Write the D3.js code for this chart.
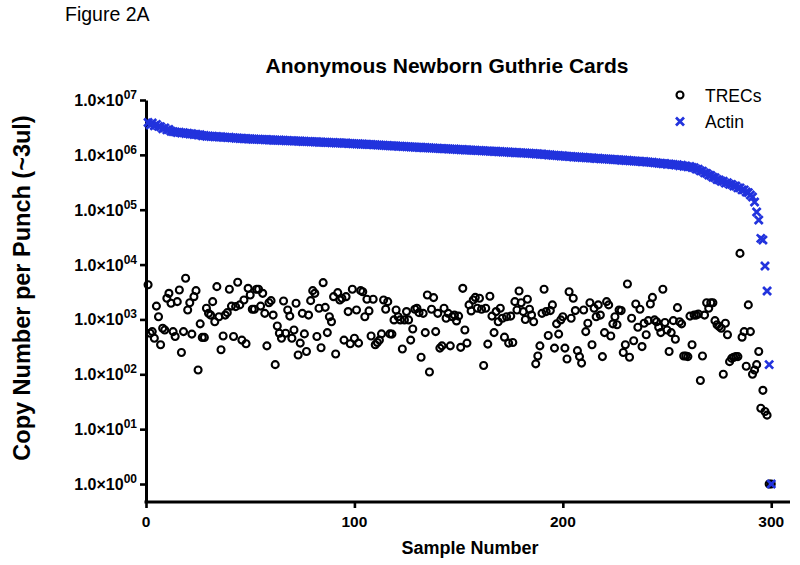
<!DOCTYPE html>
<html><head><meta charset="utf-8">
<script src="https://cdn.jsdelivr.net/npm/d3@7"></script>
<style>body{margin:0;background:#fff}svg{display:block}</style>
</head><body>
<svg id="c" width="800" height="565"></svg>
<script>
// ---------- DATA ----------
const seriesNames = ["TRECs", "Actin"];
const xTicks = [0, 100, 200, 300];
const yTickExps = [0, 1, 2, 3, 4, 5, 6, 7];

// Actin copy number per punch, samples 1..300 (in thousands)
const actinK = [
 3900,3500,3800,3400,3600,3300,3250,3000,3100,2850,2900,2700,2650,
 2620,2560,2590,2500,2540,2450,2480,2400,2420,2350,2380,2300,2320,2230,2260,2180,
 2210,2160,2190,2130,2160,2110,2140,2080,2105,2060,2090,2040,2060,2010,2030,1990,2010,1970,1990,1950,1970,1930,1950,1915,1935,1895,1915,1880,1900,1860,1880,1850,
 1870,1835,1860,1825,1845,1810,1830,1800,1815,1785,1800,1770,1790,1755,1770,1745,1760,1730,1745,1715,1730,1700,1715,1690,1700,1675,1690,1660,1675,1650,1660,1640,
 1650,1625,1640,1610,1620,1595,1605,1580,1595,1565,1580,1550,1560,1535,1550,1520,1535,1505,1520,1490,1500,1475,1485,1460,1470,1450,1460,1430,1445,1420,1430,1405,
 1415,1390,1400,1375,1385,1365,1375,1350,1360,1340,1350,1325,1335,1315,1320,1300,1310,1290,1300,1275,1285,1265,1275,1250,1260,1240,1250,1230,1240,1220,
 1230,1205,1215,1195,1205,1185,1195,1170,1180,1160,1170,1150,1160,1140,1150,1130,1140,1120,1125,1105,1115,1095,1105,1085,1095,1075,1085,1065,
 1075,1055,1060,1040,1050,1025,1035,1010,1020,995,1005,980,990,970,975,955,965,945,950,930,940,915,925,905,915,895,905,885,890,875,880,
 870,860,865,850,855,840,845,830,835,820,825,810,815,800,805,790,795,780,785,770,775,760,765,750,755,740,745,730,735,715,720,700,
 705,690,695,675,685,665,670,650,660,635,645,620,630,605,615,590,
 585,550,545,510,505,470,460,430,420,390,385,355,350,330,330,305,310,290,290,270,270,250,250,230,230,210,205,185,170,
 138,91,65,30,28,9.4,3.3,0.15,0.001
];

// TREC copy number per punch, samples 1..300
const trecs = [
 4300,560,600,455,1750,1120,345,690,640,2430,
 2990,1970,600,490,2110,3440,250,600,5620,1490,
 2020,540,2600,3350,120,830,470,470,1600,1290,
 1200,2110,910,3960,1120,280,500,1200,1330,3540,
 1750,490,1710,4750,1840,420,2260,360,3690,2790,
 1530,1530,3540,3540,1750,2990,1290,330,2020,2200,
 1200,150,760,560,455,2170,560,1490,1150,455,
 640,1970,225,370,1290,545,260,1200,2200,3350,
 2990,490,1600,305,4680,1660,575,1120,910,2600,
 235,3080,2260,2430,420,2600,1390,360,3540,455,
 1490,370,3350,3200,1120,2330,1430,500,2330,345,
 380,420,545,2260,1530,2110,545,540,980,1490,
 1120,980,290,980,1390,980,420,670,1530,1600,
 1330,205,1290,575,2790,110,1530,2500,600,1290,
 300,330,1600,1050,1290,330,1120,1200,940,1150,
 310,3690,640,370,1840,1430,2260,2520,
 1600,2430,1530,145,1600,355,2650,1150,575,1390,
 910,1600,1050,475,1120,370,1150,380,2110,1490,
 3300,2020,1390,1000,2330,1530,1200,910,155,215,
 330,1290,3540,1390,510,1450,1840,300,830,540,
 980,1120,300,190,3200,1050,2430,1450,270,210,
 160,1490,600,850,2020,345,1600,1120,1840,1200,
 210,575,2110,1840,500,830,1120,800,1490,1450,
 250,345,4430,205,1050,410,1910,720,1530,320,
 850,525,950,1910,2520,980,910,720,575,3540,
 880,640,260,575,950,435,1640,910,830,215,
 215,210,1150,345,1200,1200,1260,77,215,1200,
 2020,1600,2020,2020,950,800,740,690,100,850,
 525,170,195,205,210,210,16000,475,600,140,
 1840,600,100,120,150,260,24,51,21,18,
 1,1
];

// ---------- CHART ----------
const BLUE = "#2233dd";
const FONT = "'Liberation Sans', Arial, Helvetica, sans-serif";
const svg = d3.select("#c").style("font-family", FONT);

const x = d3.scaleLinear().domain([0, 309]).range([146, 790]);
const y = d3.scaleLog().domain([0.47, 1e7]).range([502, 100]);

const actin = actinK.map((v, i) => ({s: i + 1, v: v * 1000}));
const trec = trecs.map((v, i) => ({s: i + 1, v}));

// Figure label and title
svg.append("text").attr("x", 65).attr("y", 21).attr("font-size", 19.5).text("Figure 2A");
svg.append("text").attr("x", 447).attr("y", 73).attr("text-anchor", "middle")
  .attr("font-size", 21).attr("font-weight", "bold").text("Anonymous Newborn Guthrie Cards");

// Axes
const yAxis = d3.axisLeft(y).tickValues(yTickExps.map(e => Math.pow(10, e)))
  .tickSize(6).tickSizeOuter(0).tickFormat("");
const gy = svg.append("g").attr("transform", "translate(146,0)").call(yAxis);
const xAxis = d3.axisBottom(x).tickValues(xTicks).tickSize(6).tickSizeOuter(0).tickFormat("");
const gx = svg.append("g").attr("transform", "translate(0,502)").call(xAxis);
[gx, gy].forEach(g => {
  g.select(".domain").attr("stroke", "#000").attr("stroke-width", 3);
  g.selectAll(".tick line").attr("stroke", "#000").attr("stroke-width", 2.6);
});
gx.select(".domain").attr("d", `M${x.range()[0] - 1.5},0H${x.range()[1]}`);

// Y tick labels 1.0×10^0k
yTickExps.forEach(e => {
  const t = svg.append("text").attr("x", 137).attr("y", y(Math.pow(10, e)) + 6)
    .attr("text-anchor", "end").attr("font-weight", "bold").attr("font-size", 16);
  t.append("tspan").text("1.0×10");
  t.append("tspan").attr("dy", -7).attr("font-size", 12).text("0" + e);
});

// X tick labels
xTicks.forEach(v => {
  svg.append("text").attr("x", x(v)).attr("y", 527).attr("text-anchor", "middle")
    .attr("font-weight", "bold").attr("font-size", 15.5).text(v);
});

// Axis titles
svg.append("text").attr("x", 470).attr("y", 554).attr("text-anchor", "middle")
  .attr("font-weight", "bold").attr("font-size", 18).text("Sample Number");
svg.append("text").attr("transform", "translate(30,288) rotate(-90)").attr("text-anchor", "middle")
  .attr("font-weight", "bold").attr("font-size", 23.5).text("Copy Number per Punch (~3ul)");

// TRECs circles
svg.append("g").selectAll("circle").data(trec).join("circle")
  .attr("cx", d => x(d.s)).attr("cy", d => y(d.v)).attr("r", 3.5)
  .attr("fill", "none").attr("stroke", "#000").attr("stroke-width", 2.1);

// Actin crosses
const cross = (cx, cy, h) => `M${cx - h},${cy - h}L${cx + h},${cy + h}M${cx - h},${cy + h}L${cx + h},${cy - h}`;
svg.append("g").selectAll("path").data(actin).join("path")
  .attr("d", d => cross(x(d.s), y(d.v), 4))
  .attr("stroke", BLUE).attr("stroke-width", 2.7).attr("fill", "none");

// Legend
const lg = svg.append("g");
lg.append("circle").attr("cx", 680).attr("cy", 95).attr("r", 3.5)
  .attr("fill", "none").attr("stroke", "#000").attr("stroke-width", 2.1);
lg.append("text").attr("x", 705).attr("y", 101.5).attr("font-size", 17.5).text(seriesNames[0]);
lg.append("path").attr("d", cross(680, 121.5, 4)).attr("stroke", BLUE).attr("stroke-width", 2.7);
lg.append("text").attr("x", 705).attr("y", 128).attr("font-size", 17.5).text(seriesNames[1]);
</script>
</body></html>
